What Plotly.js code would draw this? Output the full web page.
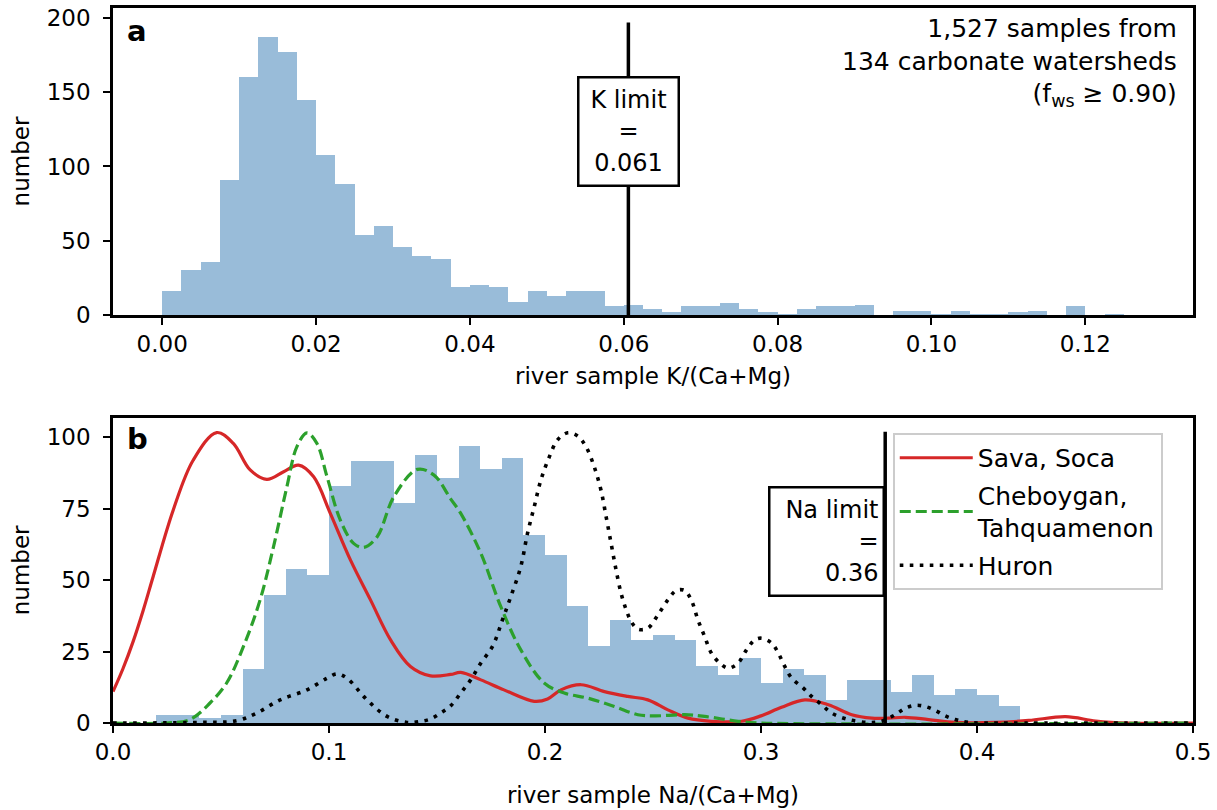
<!DOCTYPE html>
<html>
<head>
<meta charset="utf-8">
<script src="https://cdn.plot.ly/plotly-3.0.1.min.js"></script>
<style>html,body{margin:0;padding:0;background:#fff;}#chart{width:1217px;height:810px;}</style>
</head>
<body>
<div id="chart"></div>
<script>
// ---------- Panel a: K/(Ca+Mg) histogram ----------
const kBinWidth = 0.0025;
const kBinLeft = [0,0.0025,0.005,0.0075,0.01,0.0125,0.015,0.0175,0.02,0.0225,
  0.025,0.0275,0.03,0.0325,0.035,0.0375,0.04,0.0425,0.045,0.0475,
  0.05,0.0525,0.055,0.0575,0.06,0.0625,0.065,0.0675,0.07,0.0725,
  0.075,0.0775,0.08,0.0825,0.085,0.0875,0.09,0.0925,0.095,0.0975,
  0.1,0.1025,0.105,0.1075,0.11,0.1125,0.115,0.1175,0.12,0.1225];
const kCounts = [16,30,36,91,160,187,177,145,108,88,
  54,60,46,40,38,19,20,19,9,16,
  13,16,16,6,7,4,2,6,6,8,
  4,2,1,4,6,6,7,0,3,3,
  1,3,1,1,2,3,0,6,0,1];
const kLimit = 0.0606;
const kLimitTop = 197;
const kTicks = [0,0.02,0.04,0.06,0.08,0.10,0.12];

// ---------- Panel b: Na/(Ca+Mg) histogram + river curves ----------
const naBinWidth = 0.01;
const naBinLeft = [0.02,0.03,0.04,0.05,0.06,0.07,0.08,0.09,0.10,0.11,
  0.12,0.13,0.14,0.15,0.16,0.17,0.18,0.19,0.20,0.21,
  0.22,0.23,0.24,0.25,0.26,0.27,0.28,0.29,0.30,0.31,
  0.32,0.33,0.34,0.35,0.36,0.37,0.38,0.39,0.40,0.41];
const naCounts = [3,3,2,3,19,45,54,52,83,92,
  92,77,94,86,97,89,93,66,59,41,
  27,36,29,31,29,20,17,23,14,19,
  17,8,15,15,11,17,10,12,10,6];
const naLimit = 0.3575;
const naLimitTop = 102;

const savaX = [0,0.0046,0.0093,0.014,0.0186,0.0279,0.0371,0.048,0.0557,0.0635,0.0712,0.079,0.0859,0.0929,0.1006,0.1099,0.1192,0.1285,0.1377,0.147,0.1563,0.161,0.1703,0.181,0.195,0.2012,0.2074,0.2167,0.2275,0.2383,0.2476,0.2569,0.2662,0.277,0.291,0.3,0.3095,0.3203,0.3312,0.342,0.3513,0.359,0.3668,0.3776,0.39,0.4085,0.424,0.441,0.455,0.47,0.5];
const savaY = [11,19,28.5,39.5,51.3,74.6,92,101.7,97.9,88.6,85.3,88,90.3,86.2,73.4,57.1,43.1,29.1,19.8,16.5,17,17.7,15.1,11.6,7.6,8.4,11.6,13.4,11,9.3,8.1,4.6,1.7,0.6,0.6,2.5,5.5,8.1,6.4,2.9,1.7,1.7,2,1.2,0.2,0.2,0.9,2.2,0.7,0,0];

const chebX = [0,0.0248,0.0356,0.0449,0.0526,0.0604,0.0681,0.0743,0.0805,0.0851,0.0898,0.0944,0.0991,0.1052,0.1114,0.1161,0.1223,0.13,0.1409,0.1486,0.1563,0.161,0.1703,0.1795,0.1888,0.1996,0.2089,0.2198,0.2321,0.243,0.2507,0.2646,0.2739,0.2894,0.3,0.5];
const chebY = [0,0,1.2,7,14,26.8,43.1,61.7,82.7,96.7,101.6,97.9,86.2,71.1,62.9,61.5,65.2,79.2,88.8,86.8,78.5,73.4,59.4,40.8,25.6,14,10.5,8.7,5.8,2.9,2.5,2.9,2.3,0.6,0,0];

const huronX = [0,0.04,0.0573,0.0666,0.0774,0.0898,0.0991,0.1037,0.1083,0.1176,0.1269,0.1362,0.1424,0.147,0.1517,0.1563,0.161,0.1656,0.1703,0.1757,0.1803,0.1842,0.1888,0.1919,0.195,0.1981,0.202,0.2058,0.2105,0.2151,0.219,0.2228,0.2259,0.2283,0.2306,0.2329,0.2352,0.2376,0.2399,0.243,0.2476,0.2523,0.2569,0.2608,0.2646,0.2677,0.2708,0.2739,0.277,0.2809,0.2848,0.2894,0.2933,0.2971,0.3002,0.3049,0.308,0.311,0.3142,0.3196,0.3234,0.3281,0.3327,0.3405,0.3498,0.3559,0.3621,0.3668,0.3714,0.376,0.3807,0.3853,0.39,0.3962,0.41,0.5];
const huronY = [0,0.2,0.8,3.5,8.1,11.6,15.7,17.2,15.7,8.1,2.3,0.2,0.6,1.4,3.5,6,10.5,15.1,21,26.8,36.1,44.3,54.8,66.4,75.7,85.1,93.2,99.1,101.6,100.5,96.7,89.7,81.6,72.2,62.9,53.6,45.5,39.6,35.5,32.9,33.2,37.9,43.1,46.4,46.4,43.1,36.1,30.3,24.5,21,19.2,21,25.6,29.1,29.7,28,24.5,19.8,15.7,12.2,9.3,6.4,3.5,1.2,0.2,0.6,2.9,5.2,6.2,5.8,4.4,2.5,1.2,0.2,0,0];

const seriesNames = ['Sava, Soca', 'Cheboygan,<br>Tahquamenon', 'Huron'];

// ---------- styles ----------
const FONT = 'DejaVu Sans, Liberation Sans, Arial, sans-serif';
const TS = 23;   // tick / title size
const AS = 24;   // box annotation size
const LS = 25;   // legend / corner note size
const barColor = '#99bcd9';

const traces = [
  {type:'bar', x:kBinLeft, y:kCounts, width:kBinWidth, offset:0, marker:{color:barColor, line:{width:0}},
   xaxis:'x', yaxis:'y', showlegend:false, hoverinfo:'x+y'},
  {type:'bar', x:naBinLeft, y:naCounts, width:naBinWidth, offset:0, marker:{color:barColor, line:{width:0}},
   xaxis:'x2', yaxis:'y2', showlegend:false, hoverinfo:'x+y'},
  {type:'scatter', mode:'lines', x:savaX, y:savaY, name:seriesNames[0], legendgroup:'g1',
   line:{color:'#d62728', width:3.2, shape:'spline', smoothing:1}, xaxis:'x2', yaxis:'y2'},
  {type:'scatter', mode:'lines', x:chebX, y:chebY, name:seriesNames[1], legendgroup:'g2',
   line:{color:'#2ca02c', width:3.2, dash:'11px,5px', shape:'spline', smoothing:1}, xaxis:'x2', yaxis:'y2'},
  {type:'scatter', mode:'lines', x:huronX, y:huronY, name:seriesNames[2], legendgroup:'g3',
   line:{color:'#000000', width:3.6, dash:'3.6px,6.4px', shape:'spline', smoothing:1}, xaxis:'x2', yaxis:'y2'}
];

const axisCommon = {
  showline:true, mirror:true, linecolor:'#000', linewidth:2.5,
  ticks:'outside', ticklen:7, tickwidth:2, tickcolor:'#000',
  showgrid:false, zeroline:false,
  tickfont:{family:FONT, size:TS, color:'#000'},
  automargin:false
};

const layout = {
  width:1217, height:810,
  margin:{l:113, r:24, t:8, b:87},
  paper_bgcolor:'#fff', plot_bgcolor:'#fff',
  font:{family:FONT, size:TS, color:'#000'},
  bargap:0,
  xaxis:Object.assign({}, axisCommon, {
    domain:[0,1], anchor:'y', range:[-0.0064, 0.134],
    tickvals:kTicks, tickformat:'.2f',
    title:{text:'river sample K/(Ca+Mg)', font:{family:FONT, size:TS, color:'#000'}, standoff:12}
  }),
  yaxis:Object.assign({}, axisCommon, {
    domain:[0.5706,1], anchor:'x', range:[0,206.7], dtick:50, ticklabelstandoff:8,
    title:{text:'number', font:{family:FONT, size:TS, color:'#000'}, standoff:11}
  }),
  xaxis2:Object.assign({}, axisCommon, {
    domain:[0,1], anchor:'y2', range:[0,0.5], dtick:0.1, tickformat:'.1f',
    title:{text:'river sample Na/(Ca+Mg)', font:{family:FONT, size:TS, color:'#000'}, standoff:23}
  }),
  yaxis2:Object.assign({}, axisCommon, {
    domain:[0,0.427], anchor:'x2', range:[0,106.9], dtick:25, ticklabelstandoff:8,
    title:{text:'number', font:{family:FONT, size:TS, color:'#000'}, standoff:11}
  }),
  legend:{
    x:0.722, y:0.4056, xanchor:'left', yanchor:'top',
    bgcolor:'rgba(255,255,255,0.85)', bordercolor:'#cccccc', borderwidth:2,
    font:{family:FONT, size:LS, color:'#000'},
    traceorder:'grouped', tracegroupgap:2, itemwidth:73
  },
  shapes:[
    {type:'line', xref:'x', yref:'y', x0:kLimit, x1:kLimit, y0:0, y1:kLimitTop, line:{color:'#000', width:3.5}},
    {type:'line', xref:'x2', yref:'y2', x0:naLimit, x1:naLimit, y0:0, y1:naLimitTop, line:{color:'#000', width:3.5}}
  ],
  annotations:[
    {xref:'x', yref:'y', x:kLimit, y:123.3, xanchor:'center', yanchor:'middle',
     text:'K limit<br>=<br>' + kLimit.toFixed(3), showarrow:false, align:'center',
     font:{family:FONT, size:AS, color:'#000'}, bgcolor:'#fff', bordercolor:'#000', borderwidth:2.5, borderpad:4,
     width:90, height:98},
    {xref:'x2', yref:'y2', x:naLimit, y:63.7, xanchor:'right', yanchor:'middle',
     text:'Na limit<br>=<br>0.36', showarrow:false, align:'right',
     font:{family:FONT, size:AS, color:'#000'}, bgcolor:'#fff', bordercolor:'#000', borderwidth:2.5, borderpad:4,
     width:104, height:98},
    {xref:'paper', yref:'paper', x:0.987, y:0.994, xanchor:'right', yanchor:'top', align:'right', showarrow:false,
     text:'1,527 samples from<br>134 carbonate watersheds<br>(f<sub>ws</sub> ≥ 0.90)',
     font:{family:FONT, size:LS, color:'#000'}},
    {xref:'paper', yref:'paper', x:0.011, y:0.994, xanchor:'left', yanchor:'top', showarrow:false,
     text:'<b>a</b>', font:{family:FONT, size:29, color:'#000'}},
    {xref:'paper', yref:'paper', x:0.011, y:0.424, xanchor:'left', yanchor:'top', showarrow:false,
     text:'<b>b</b>', font:{family:FONT, size:29, color:'#000'}}
  ]
};

Plotly.newPlot('chart', traces, layout, {displayModeBar:false, responsive:false});
</script>
</body>
</html>
